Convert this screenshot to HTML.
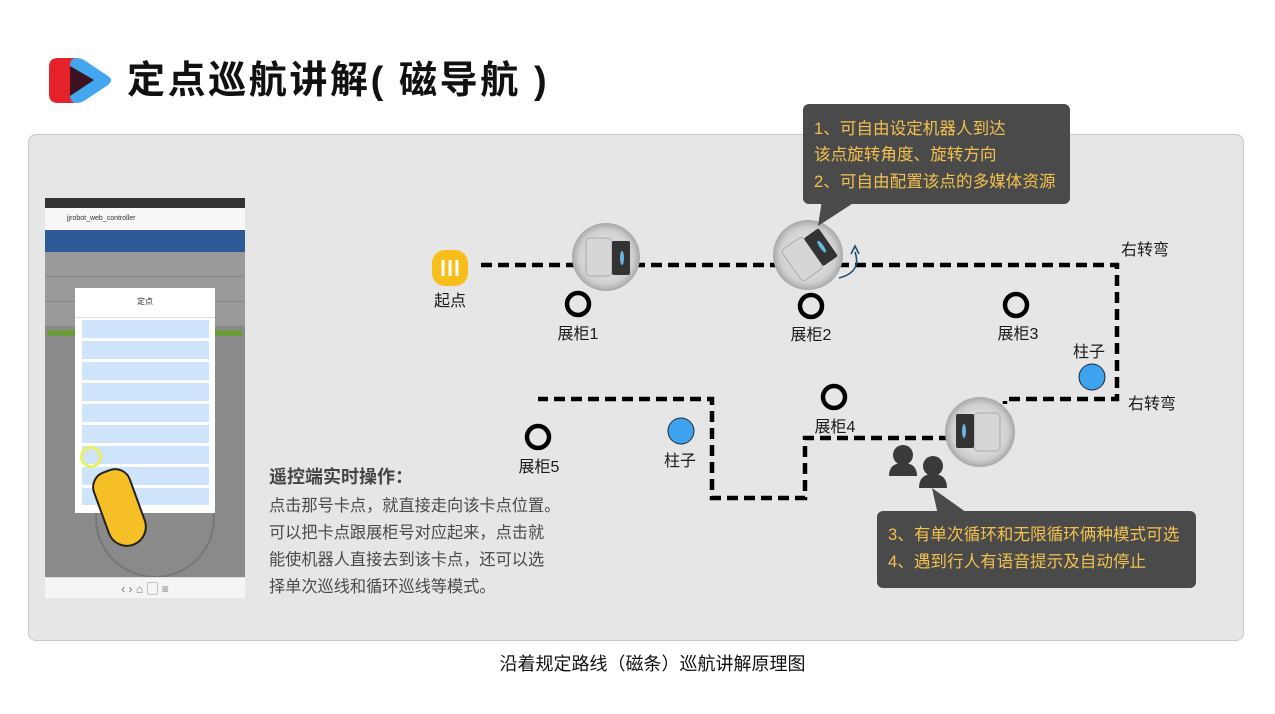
<!DOCTYPE html>
<html><head><meta charset="utf-8"><style>
*{margin:0;padding:0;box-sizing:border-box}
body{width:1275px;height:714px;background:#fff;position:relative;overflow:hidden;font-family:"Liberation Sans","Noto Sans CJK SC",sans-serif}
.a{position:absolute}
.t{font-family:"Liberation Sans","Noto Sans CJK SC",sans-serif}
</style></head><body>
<div class="a" style="left:28px;top:134px;width:1216px;height:507px;background:#e6e6e6;border:1px solid #c8c8c8;border-radius:8px"></div>
<svg class="a" style="left:0;top:0" width="1275" height="714">
<defs>
<radialGradient id="rg" cx="50%" cy="50%" r="50%"><stop offset="0" stop-color="#f4f4f4"/><stop offset=".8" stop-color="#cfcfcf"/><stop offset="1" stop-color="#a8a8a8"/></radialGradient>
</defs>
<path d="M58 58 L74 58 L106 80 L74 103 L58 103 Q49 103 49 94 L49 67 Q49 58 58 58Z" fill="#e3222a"/>
<path d="M77 58 Q70 58 70 66 L70 95 Q70 103 77 103 Q80 103 84 101 L108 85 Q114 80 108 76 L84 60 Q80 58 77 58Z" fill="#44a6ef"/>
<path d="M70 66 L94 80 L70 96Z" fill="#3a1220"/>
<g stroke="#000" stroke-width="4.5" fill="none" stroke-dasharray="11 6">
<path d="M481 265 H1117 V399 H1005 V404"/>
<path d="M950 438 H805 V498 H712 V399 H538"/>
</g>
<rect x="432" y="250" width="36" height="36" rx="13" fill="#f8be1c"/>
<g stroke="#fff" stroke-width="3"><line x1="443" y1="260" x2="443" y2="276"/><line x1="450" y1="260" x2="450" y2="276"/><line x1="457" y1="260" x2="457" y2="276"/></g>
<g>
<circle cx="606" cy="257" r="34" fill="url(#rg)"/>
<rect x="586" y="238" width="26" height="38" rx="4" fill="#d6d6d6" stroke="#aaa"/>
<rect x="612" y="241" width="18" height="34" rx="2" fill="#333"/>
<ellipse cx="622" cy="258" rx="2" ry="7" fill="#6bb6e0"/>
</g>
<g transform="rotate(-35 808 255)">
<circle cx="808" cy="255" r="35" fill="url(#rg)"/>
<rect x="788" y="236" width="26" height="38" rx="4" fill="#d6d6d6" stroke="#aaa"/>
<rect x="814" y="239" width="18" height="34" rx="2" fill="#333"/>
<ellipse cx="824" cy="256" rx="2" ry="7" fill="#6bb6e0"/>
</g>
<path d="M839 278 Q862 272 855 252" stroke="#1f4f74" stroke-width="1.6" fill="none"/>
<path d="M851 254 L855 246 L859 254" stroke="#1f4f74" stroke-width="1.6" fill="none"/>
<g transform="rotate(180 980 432)">
<circle cx="980" cy="432" r="35" fill="url(#rg)"/>
<rect x="960" y="413" width="26" height="38" rx="4" fill="#d6d6d6" stroke="#aaa"/>
<rect x="986" y="416" width="18" height="34" rx="2" fill="#333"/>
<ellipse cx="996" cy="433" rx="2" ry="7" fill="#6bb6e0"/>
</g>
<g stroke="#000" stroke-width="4.5" fill="none">
<circle cx="578" cy="304" r="11"/><circle cx="811" cy="306" r="11"/><circle cx="1016" cy="305" r="11"/><circle cx="834" cy="397" r="11"/><circle cx="538" cy="437" r="11"/>
</g>
<circle cx="1092" cy="377" r="13" fill="#3fa2ef" stroke="#1a2a3a" stroke-width="1"/>
<circle cx="681" cy="431" r="13" fill="#3fa2ef" stroke="#1a2a3a" stroke-width="1"/>
<g fill="#3a3a3a">
<circle cx="903" cy="455" r="10"/><path d="M889 476 Q889 463 903 463 Q917 463 917 476Z"/>
<circle cx="933" cy="466" r="10"/><path d="M919 488 Q919 474 933 474 Q947 474 947 488Z"/>
</g>
<path d="M822 200 L818 226 L858 200Z" fill="#4a4a4a"/>
<rect x="803" y="104" width="267" height="100" rx="6" fill="#4a4a4a"/>
<path d="M932 488 L938 515 L970 515Z" fill="#4a4a4a"/>
<rect x="877" y="511" width="319" height="77" rx="6" fill="#4a4a4a"/>
<g class="t" font-size="16" fill="#1a1a1a" text-anchor="middle">
<text x="450" y="306">起点</text>
<text x="578" y="339">展柜1</text>
<text x="811" y="340">展柜2</text>
<text x="1018" y="339">展柜3</text>
<text x="835" y="432">展柜4</text>
<text x="539" y="472">展柜5</text>
<text x="1089" y="357">柱子</text>
<text x="680" y="466">柱子</text>
<text x="1145" y="255">右转弯</text>
<text x="1152" y="409">右转弯</text>
</g>
<g class="t" font-size="16.6" fill="#f2c14e">
<text x="814" y="134">1、可自由设定机器人到达</text>
<text x="814" y="160">该点旋转角度、旋转方向</text>
<text x="814" y="187">2、可自由配置该点的多媒体资源</text>
<text x="888" y="540">3、有单次循环和无限循环俩种模式可选</text>
<text x="888" y="567">4、遇到行人有语音提示及自动停止</text>
</g>
</svg>
<div class="a t" style="left:127px;top:56px;font-size:38px;font-weight:bold;color:#111;letter-spacing:2.6px;line-height:50px">定点巡航讲解( 磁导航 )</div>
<div class="a" style="left:45px;top:198px;width:200px;height:400px;background:#f5f5f5;overflow:hidden">
 <div class="a" style="left:0;top:0;width:200px;height:10px;background:#333"></div>
 <div class="a" style="left:0;top:10px;width:200px;height:22px;background:#f8f8f8;font-size:7px;color:#333;padding:7px 0 0 22px">jjrobot_web_controller</div>
 <div class="a" style="left:0;top:32px;width:200px;height:22px;background:#2e5b97"></div>
 <div class="a" style="left:0;top:54px;width:200px;height:325px;background:#8a8a8a"></div>
 <div class="a" style="left:0;top:54px;width:200px;height:75px;background:repeating-linear-gradient(#9a9a9a 0 24px,#888 24px 25px)"></div>
 <div class="a" style="left:2px;top:132px;width:196px;height:6px;background:#6a9a3a;border-radius:3px"></div>
 <div class="a" style="left:50px;top:260px;width:120px;height:120px;border:2px solid #777;border-radius:50%"></div>
 <div class="a" style="left:30px;top:90px;width:140px;height:225px;background:#fff">
  <div style="text-align:center;font-size:8px;color:#333;margin-top:8px">定点</div>
  <div style="border-top:1px solid #ddd;margin-top:10px"></div>
 </div>
 <div class="a" style="left:37px;top:122px;width:127px;height:185px;background:repeating-linear-gradient(#cde4fb 0 18px,#fff 18px 21px)"></div>
 <div class="a" style="left:35px;top:248px;width:22px;height:22px;border:3px solid #e8ef60;border-radius:50%"></div>
 <div class="a" style="left:55px;top:270px;width:40px;height:80px;background:#f6bf26;border:2px solid #222;border-radius:18px 18px 22px 22px;transform:rotate(-20deg)"></div>
 <div class="a" style="left:0;top:379px;width:200px;height:21px;background:#f5f5f5;border-top:1px solid #ddd;font-size:12px;color:#777;display:flex;justify-content:space-around;align-items:center">‹ › ⌂ ▢ ≡</div>
</div>
<div class="a t" style="left:269px;top:463px;font-size:18px;font-weight:bold;color:#444">遥控端实时操作：</div>
<div class="a t" style="left:269px;top:493px;font-size:16.2px;line-height:27px;color:#4a4a4a;width:310px">点击那号卡点，就直接走向该卡点位置。<br>可以把卡点跟展柜号对应起来，点击就<br>能使机器人直接去到该卡点，还可以选<br>择单次巡线和循环巡线等模式。</div>
<div class="a t" style="left:0;top:650px;width:1305px;text-align:center;font-size:18px;color:#111">沿着规定路线（磁条）巡航讲解原理图</div>
</body></html>
